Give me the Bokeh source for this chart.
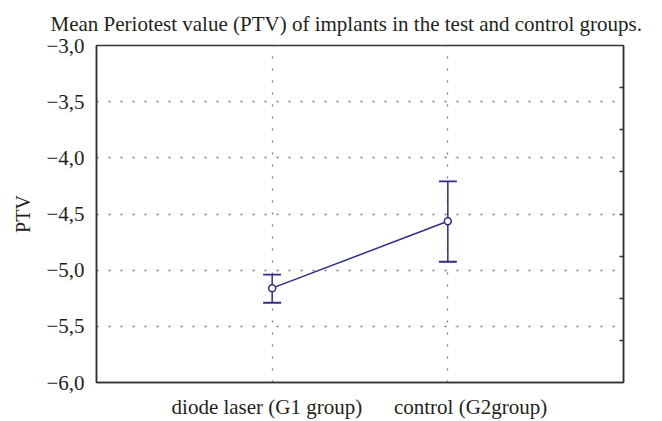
from bokeh.plotting import figure
from bokeh.models import (Range1d, FixedTicker, CustomJSTickFormatter, LinearAxis,
                          ColumnDataSource, Whisker, TeeHead)
from bokeh.embed import file_html
from bokeh.resources import INLINE

# ---- data ----
categories = ["diode laser (G1 group)", "control (G2group)"]
means = [-5.16, -4.565]
upper = [-5.04, -4.21]
lower = [-5.29, -4.925]
y_ticks = [-6.0, -5.5, -5.0, -4.5, -4.0, -3.5, -3.0]
title_text = "Mean Periotest value (PTV) of implants in the test and control groups."
y_label = "PTV"

# ---- style ----
FONT = "Liberation Serif"
TXT = "#231f20"
NAVY = "#2e2e82"
label_shift = [-0.03, 0.13]   # horizontal nudge of category labels (x units)

xs = [i + 1 for i in range(len(categories))]

p = figure(width=662, height=421, output_backend="svg", toolbar_location=None,
           x_range=Range1d(0, len(categories) + 1), y_range=Range1d(y_ticks[0], y_ticks[-1]),
           min_border_left=96, min_border_top=43, min_border_right=39, min_border_bottom=38)

p.title.text = title_text
p.title.text_font = FONT
p.title.text_font_size = "21px"
p.title.text_font_style = "normal"
p.title.text_color = TXT
p.title.align = "left"
p.title.offset = -46
p.title.standoff = 19

p.outline_line_color = "#333333"
p.outline_line_width = 1.5
p.outline_line_alpha = 1.0
p.background_fill_color = "white"
p.border_fill_color = "white"

# x axis: category labels
xa = p.xaxis[0]
xa.ticker = FixedTicker(ticks=[x + s for x, s in zip(xs, label_shift)])
xa.major_label_overrides = {x + s: c for x, s, c in zip(xs, label_shift, categories)}
xa.major_tick_out = 0
xa.major_tick_in = 0
xa.minor_tick_out = 0
xa.minor_tick_in = 0
xa.axis_line_color = "#333333"
xa.axis_line_width = 1.5
xa.major_label_standoff = 12
xa.major_label_text_font = FONT
xa.major_label_text_font_size = "21px"
xa.major_label_text_color = TXT

# y axis
ya = p.yaxis[0]
ya.ticker = FixedTicker(ticks=y_ticks)
ya.formatter = CustomJSTickFormatter(code="""
    var s = Math.abs(tick).toFixed(1).replace('.', ',');
    return (tick < 0 ? '\u2212' : '') + s;
""")
ya.major_tick_out = 0
ya.major_tick_in = 0
ya.minor_tick_out = 0
ya.minor_tick_in = 0
ya.axis_line_color = "#333333"
ya.axis_line_width = 1.5
ya.major_label_standoff = 12
ya.major_label_text_font = FONT
ya.major_label_text_font_size = "21px"
ya.major_label_text_color = TXT
ya.axis_label = y_label
ya.axis_label_text_font = FONT
ya.axis_label_text_font_size = "20px"
ya.axis_label_text_font_style = "normal"
ya.axis_label_text_color = TXT
ya.axis_label_standoff = 9

# right axis with inward ticks only
p.extra_y_ranges = {"right": Range1d(0, 8)}
ra = LinearAxis(y_range_name="right", ticker=FixedTicker(ticks=[1, 2, 3, 4, 5, 6, 7]),
                major_tick_in=4, major_tick_out=0, minor_tick_in=0, minor_tick_out=0,
                axis_line_color="#333333", axis_line_width=1.5,
                major_tick_line_color="#333333", major_tick_line_width=1.5,
                formatter=CustomJSTickFormatter(code="return '';"),
                major_label_text_font_size="1px")
p.add_layout(ra, "right")

# grids
p.xgrid.ticker = FixedTicker(ticks=xs)
p.ygrid.ticker = FixedTicker(ticks=y_ticks[1:-1])
for g in (p.xgrid[0], p.ygrid[0]):
    g.grid_line_color = "#7a7a7a"
    g.grid_line_width = 1.3
    g.grid_line_dash = "2 10"

src = ColumnDataSource(data=dict(x=xs, mean=means, upper=upper, lower=lower))

p.line("x", "mean", source=src, line_color=NAVY, line_width=1.5)
w = Whisker(base="x", upper="upper", lower="lower", source=src, dimension="height",
            line_color=NAVY, line_width=1.5,
            upper_head=TeeHead(size=18, line_color=NAVY, line_width=1.8),
            lower_head=TeeHead(size=18, line_color=NAVY, line_width=1.8))
p.add_layout(w)
p.scatter("x", "mean", source=src, marker="circle", size=7, fill_color="white",
          line_color=NAVY, line_width=1.5)

open("out.html", "w").write(file_html(p, INLINE))
